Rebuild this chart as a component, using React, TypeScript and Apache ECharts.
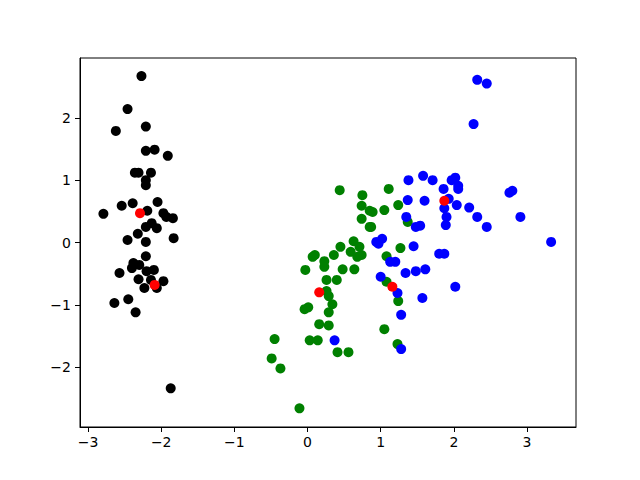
import React, { useEffect, useRef } from "react";
import * as echarts from "echarts";

// Cluster points [pc1, pc2]
const clusterBlack: number[][] = [
  [-2.27, 2.67], [-2.46, 2.14], [-2.62, 1.79], [-2.21, 1.86], [-2.21, 1.47],
  [-2.09, 1.49], [-1.91, 1.39], [-2.36, 1.12], [-2.31, 1.12], [-2.14, 1.12],
  [-2.21, 1.0], [-2.21, 0.92], [-2.39, 0.63], [-2.54, 0.59], [-2.05, 0.65],
  [-2.79, 0.46], [-2.19, 0.51], [-1.97, 0.47], [-1.84, 0.39], [-1.93, 0.41],
  [-2.13, 0.31], [-2.21, 0.25], [-2.06, 0.23], [-2.32, 0.14], [-2.46, 0.04],
  [-2.21, 0.01], [-1.83, 0.07], [-2.21, -0.22], [-2.38, -0.33], [-2.3, -0.36],
  [-2.4, -0.41], [-2.57, -0.49], [-2.2, -0.46], [-2.1, -0.44], [-2.31, -0.59],
  [-2.14, -0.6], [-1.97, -0.62], [-2.23, -0.73], [-2.06, -0.73], [-2.45, -0.91],
  [-2.64, -0.97], [-2.35, -1.12], [-1.87, -2.34],
];

const clusterGreen: number[][] = [
  [0.44, 0.84], [0.75, 0.76], [0.74, 0.59], [0.85, 0.51], [0.74, 0.38],
  [0.85, 0.25], [0.63, 0.02], [0.71, -0.07], [0.59, -0.15], [0.45, -0.07],
  [0.36, -0.2], [0.1, -0.2], [0.07, -0.23], [0.23, -0.3], [0.23, -0.39],
  [0.68, -0.23], [0.74, -0.2], [-0.03, -0.44], [0.48, -0.43], [0.64, -0.43],
  [0.26, -0.6], [0.4, -0.6], [0.26, -0.78], [0.29, -0.86], [0.34, -0.99],
  [-0.04, -1.07], [0.01, -1.04], [0.29, -1.12], [0.16, -1.31], [0.29, -1.33],
  [-0.45, -1.55], [0.03, -1.57], [0.14, -1.57], [0.41, -1.76], [0.56, -1.76],
  [-0.49, -1.86], [-0.37, -2.02], [-0.11, -2.66], [1.11, 0.86], [1.24, 0.6],
  [1.05, 0.52], [0.89, 0.49], [0.87, 0.25], [1.37, 0.33], [1.27, -0.09],
  [1.08, -0.22], [1.08, -0.63], [1.24, -0.94], [1.05, -1.39], [1.23, -1.63],
];

const clusterBlue: number[][] = [
  [2.32, 2.61], [2.45, 2.55], [2.27, 1.9], [2.8, 0.83], [2.76, 0.8],
  [2.21, 0.56], [2.32, 0.41], [2.45, 0.25], [2.91, 0.41], [3.33, 0.01],
  [1.38, 1.0], [1.58, 1.07], [1.71, 1.0], [1.86, 0.86], [1.97, 1.0],
  [2.02, 1.04], [2.06, 0.91], [2.06, 0.86], [1.37, 0.68], [1.6, 0.67],
  [1.87, 0.55], [1.93, 0.7], [2.04, 0.6], [1.35, 0.41], [1.48, 0.25],
  [1.54, 0.27], [1.9, 0.41], [1.89, 0.28], [0.94, 0.01], [1.02, 0.06],
  [0.97, -0.02], [1.45, -0.06], [1.8, -0.18], [1.87, -0.18], [1.13, -0.31],
  [1.2, -0.31], [1.34, -0.49], [1.48, -0.46], [1.61, -0.43], [1.0, -0.55],
  [1.23, -0.81], [1.57, -0.89], [2.02, -0.71], [1.28, -1.16], [1.28, -1.71],
  [0.37, -1.57],
];

const centersRed: number[][] = [
  [-2.29, 0.47], [-2.09, -0.68], [0.16, -0.8], [1.16, -0.71], [1.87, 0.67],
];

const xTicks = [-3, -2, -1, 0, 1, 2, 3];
const yTicks = [-2, -1, 0, 1, 2];

const fmt = (v: number | string) => {
  const n = Number(v);
  return n < 0 ? "\u2212" + Math.abs(n) : String(n);
};

export default function App() {
  const ref = useRef<HTMLDivElement>(null);
  useEffect(() => {
    if (!ref.current) return;
    const chart = echarts.init(ref.current, undefined, { renderer: "svg" });
    const series = (data: number[][], color: string) => ({
      type: "scatter" as const,
      data,
      symbol: "circle",
      symbolSize: 10,
      itemStyle: { color, opacity: 1 },
      emphasis: { disabled: true },
    });
    const axisCommon = {
      axisLine: { show: true, onZero: false, lineStyle: { color: "#000", width: 1 } },
      splitLine: { show: false },
    };
    chart.setOption({
      animation: false,
      backgroundColor: "#fff",
      grid: {
        left: 80,
        right: 64,
        top: 58,
        bottom: 53,
        show: true,
        borderColor: "#000",
        borderWidth: 1,
        backgroundColor: "transparent",
      },
      xAxis: {
        type: "value",
        min: -3.11,
        max: 3.67,
        ...axisCommon,
        axisTick: {
          show: true,
          length: 5,
          inside: false,
          customValues: xTicks,
          lineStyle: { color: "#000" },
        },
        axisLabel: {
          customValues: xTicks,
          formatter: fmt,
          color: "#000",
          fontSize: 14,
          fontFamily: "DejaVu Sans",
          margin: 8,
        },
      },
      yAxis: {
        type: "value",
        min: -2.96,
        max: 2.96,
        ...axisCommon,
        axisTick: {
          show: true,
          length: 5,
          inside: false,
          customValues: yTicks,
          lineStyle: { color: "#000" },
        },
        axisLabel: {
          customValues: yTicks,
          formatter: fmt,
          color: "#000",
          fontSize: 14,
          fontFamily: "DejaVu Sans",
          margin: 9,
        },
      },
      series: [
        series(clusterBlack, "#000000"),
        series(clusterGreen, "#008000"),
        series(clusterBlue, "#0000ff"),
        series(centersRed, "#ff0000"),
      ],
    });
    return () => chart.dispose();
  }, []);
  return (
    <div
      ref={ref}
      style={{ position: "fixed", left: 0, top: 0, width: 640, height: 480 }}
    />
  );
}
